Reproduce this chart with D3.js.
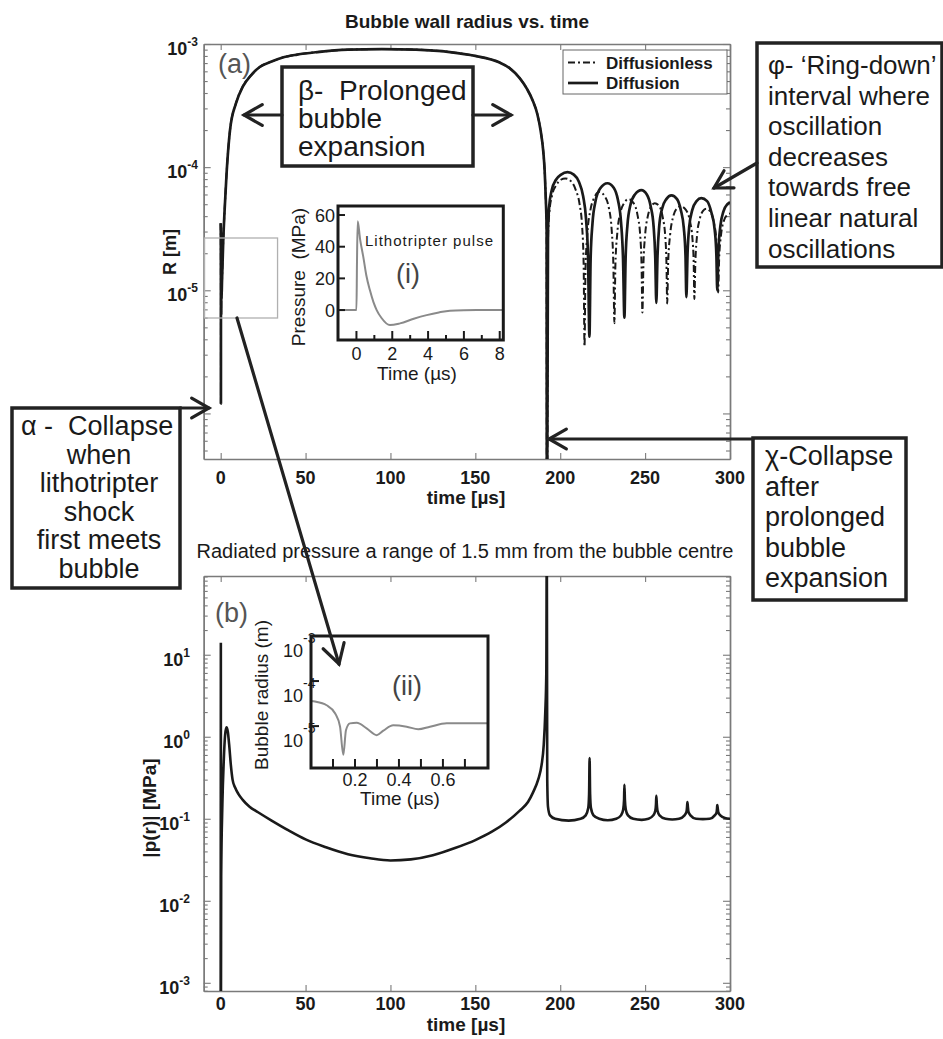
<!DOCTYPE html>
<html>
<head>
<meta charset="utf-8">
<script src="https://cdn.jsdelivr.net/npm/d3@7"></script>
<style>
body { margin: 0; background: #fff; }
svg text { font-family: "Liberation Sans", Arial, sans-serif; fill: #1a1a1a; }
</style>
</head>
<body>
<script>
// ---- data ----
var timeTicks = [0, 50, 100, 150, 200, 250, 300];
var radiusLabelExp = [-5, -4, -3];
var pressureLabelExp = [-3, -2, -1, 0, 1];

// bubble radius [m] vs time [us], shared expansion phase
var expansion = [[0,3.5e-5],[0.07,2.9e-5],[0.13,9.8e-6],[0.15,1.2e-6],[0.16,8e-6],[0.2,1.2e-5],
  [0.3,6.3e-6],[0.37,1.04e-5],[0.5,8.5e-6],[0.75,1.15e-5],[1.5,2.5e-5],[2.5,5e-5],[3.5,9e-5],
  [5.5,2.0e-4],[9,3.3e-4],[13,4.5e-4],[18,5.6e-4],[23,6.5e-4],[30,7.2e-4],[37,7.8e-4],
  [45,8.2e-4],[57,8.6e-4],[75,9.0e-4],[95,9.1e-4],[115,9.0e-4],[135,8.6e-4],[150,8.0e-4],
  [164,7.1e-4],[170,6.4e-4],[176,5.3e-4],[180.5,4.3e-4],[183.7,3.5e-4],[186.5,2.7e-4],
  [188.4,2.0e-4],[190,1.35e-4],[190.8,9.5e-5],[191.5,5.5e-5],[192,3.1e-5]];

var diffusionRing = [[192.1,2e-7],[192.3,2e-7],[192.8,3.0e-5],[193.5,4.8e-5],[195,6.5e-5],
  [197.5,7.9e-5],[200.5,8.7e-5],[204.3,9.1e-5],[208,8.7e-5],[211,7.6e-5],[213.5,5.8e-5],
  [215.2,3.8e-5],[216.4,1.8e-5],[217.2,4.2e-6],
  [217.9,1.8e-5],[219,3.5e-5],[220.8,5.3e-5],[223.5,6.7e-5],[227.8,7.4e-5],[231.5,6.8e-5],
  [234,5.4e-5],[235.8,3.6e-5],[237,1.8e-5],[237.8,6e-6],
  [238.5,1.8e-5],[239.6,3.4e-5],[241.3,4.9e-5],[244,6.0e-5],[247.8,6.5e-5],[251,6.0e-5],
  [253.3,4.8e-5],[255,3.3e-5],[256,1.8e-5],[256.6,7.9e-6],
  [257.3,1.9e-5],[258.3,3.3e-5],[260,4.6e-5],[262.5,5.5e-5],[265.5,5.9e-5],[268.8,5.5e-5],
  [271,4.5e-5],[272.8,3.2e-5],[273.8,1.9e-5],[274.3,8.8e-6],
  [275,2.0e-5],[276,3.3e-5],[277.8,4.5e-5],[280.3,5.3e-5],[283.1,5.6e-5],[286.5,5.3e-5],
  [289,4.3e-5],[291,3.1e-5],[292,1.9e-5],[292.5,1e-5],
  [293.2,2.1e-5],[294.3,3.3e-5],[296.2,4.4e-5],[298.5,5.0e-5],[300,5.2e-5]];

var diffusionlessRing = [[192.1,2e-7],[192.3,2e-7],[192.8,2.6e-5],[193.6,4.3e-5],[195.2,5.9e-5],
  [197.8,7.2e-5],[200.3,7.9e-5],[203,8.1e-5],[206.3,7.7e-5],[209,6.6e-5],[211.4,5e-5],
  [212.9,3.3e-5],[213.8,1.6e-5],[214.3,3.5e-6],
  [214.9,1.5e-5],[216,2.9e-5],[217.8,4.5e-5],[220.2,5.7e-5],[223,6.3e-5],[226.2,5.8e-5],
  [228.6,4.7e-5],[230.3,3.1e-5],[231.3,1.6e-5],[231.9,5.4e-6],
  [232.5,1.6e-5],[233.6,2.9e-5],[235.3,4.2e-5],[237.6,5.1e-5],[240.2,5.5e-5],[243.2,5.1e-5],
  [245.5,4.1e-5],[247.1,2.8e-5],[247.9,1.6e-5],[248.4,6.6e-6],
  [249,1.6e-5],[250,2.8e-5],[251.6,4e-5],[253.6,4.8e-5],[255.7,5.1e-5],[258.4,4.8e-5],
  [260.4,3.9e-5],[261.9,2.7e-5],[262.6,1.6e-5],[263,7.8e-6],
  [263.6,1.7e-5],[264.7,2.8e-5],[266.4,3.9e-5],[268.6,4.6e-5],[271,4.8e-5],[274,4.5e-5],
  [276.3,3.7e-5],[277.9,2.6e-5],[278.6,1.7e-5],[279,8.5e-6],
  [279.6,1.7e-5],[280.6,2.8e-5],[282.2,3.8e-5],[284,4.4e-5],[286,4.6e-5],[288.6,4.3e-5],
  [290.6,3.5e-5],[292,2.5e-5],[292.6,1.7e-5],[293,9.6e-6],
  [293.6,1.8e-5],[294.7,2.8e-5],[296.5,3.7e-5],[298.5,4.1e-5],[300,4.2e-5]];

// radiated pressure |p(r)| [MPa] at 1.5 mm
var radiatedPressure = [[0,5e-4],[0.1,14],[0.16,5e-4],[0.3,0.02],[1,0.15],[1.8,0.5],[2.6,1.05],
  [3.4,1.3],[4.2,1.15],[5,0.8],[6,0.45],[7,0.3],[8.5,0.24],[10.5,0.2],[13,0.17],[17,0.14],
  [22,0.12],[30,0.095],[40,0.072],[50,0.056],[62,0.045],[75,0.037],[88,0.033],[100,0.031],
  [112,0.032],[125,0.036],[138,0.044],[150,0.055],[160,0.07],[168,0.09],[176,0.125],
  [181,0.16],[184,0.21],[187,0.3],[189,0.45],[190.3,0.8],[191.2,2],[191.8,6],[192.1,300],
  [192.35,0.3],[192.8,0.14],[194,0.11],[197,0.1],[205,0.095],[212,0.1],
  [215,0.11],[216.5,0.135],[217.0,0.2],[217.3,0.55],[217.6,0.2],[218.1,0.135],[219.6,0.11],
  [223,0.1],[228,0.096],[233,0.1],
  [235.8,0.11],[237.1,0.13],[237.6,0.17],[237.8,0.26],[238.1,0.17],[238.6,0.13],[239.9,0.11],
  [243,0.1],[248,0.097],[252,0.1],
  [254.8,0.11],[256,0.125],[256.4,0.15],[256.6,0.19],[256.9,0.15],[257.3,0.125],[258.5,0.11],
  [262,0.1],[266,0.098],[270,0.1],
  [273.2,0.11],[274.4,0.122],[274.7,0.14],[274.9,0.16],[275.2,0.14],[275.5,0.122],[276.7,0.11],
  [280,0.1],[284,0.099],[288,0.1],
  [291,0.11],[292.1,0.12],[292.35,0.133],[292.5,0.147],[292.8,0.133],[293.1,0.12],[294.3,0.11],
  [297,0.102],[300,0.1]];

// inset (i): lithotripter pulse
var pulseTime = [-1.03, 0, 0.03, 0.07, 0.2, 0.38, 0.55, 0.75, 0.95, 1.13, 1.4, 1.87, 2.43, 3.2, 3.92, 4.6, 5.22, 6, 7.07, 8.2];
var pulsePressure = [0, 0, 30, 56, 45, 33.7, 22, 12.6, 5, 0, -5, -9.5, -8.4, -5.5, -3.2, -1.5, -0.4, -0.1, 0, 0];
var pulseTimeTicks = [0, 2, 4, 6, 8];
var pulseMinorTicks = [1, 3, 5, 7];
var pulsePressureTicks = [0, 20, 40, 60];

// inset (ii): early bubble radius
var earlyTime = [0, 0.018, 0.071, 0.11, 0.132, 0.147, 0.159, 0.177, 0.208, 0.253, 0.299, 0.329, 0.374, 0.435, 0.488, 0.541, 0.617, 0.738, 0.805];
var earlyRadius = [3.6e-5, 3.5e-5, 2.9e-5, 1.9e-5, 9.8e-6, 2.3e-6, 8.1e-6, 1.15e-5, 1.18e-5, 8.9e-6, 6.3e-6, 7.9e-6, 1.04e-5, 9.7e-6, 8.5e-6, 9.7e-6, 1.15e-5, 1.15e-5, 1.15e-5];
var earlyTimeTicks = [0.2, 0.4, 0.6];
var earlyMinorTicks = [0.1, 0.3, 0.5, 0.7];
var earlyRadiusExp = [-5, -4, -3];

// ---- drawing ----
var svg = d3.select("body").append("svg")
  .attr("width", 943)
  .attr("height", 1039);

var x = d3.scaleLinear().domain([-10, 300]).range([203.7, 730]);
var yR = d3.scaleLog().domain([Math.pow(10, -6.37), 1e-3]).range([459, 44]);
var yP = d3.scaleLog().domain([Math.pow(10, -3.1), Math.pow(10, 1.96)]).range([991, 576]);

var axisColor = "#7a7a7a";
var ink = "#1a1a1a";

function logTicks(scale) {
  var d = scale.domain(), lo = Math.floor(Math.log10(d[0])), hi = Math.ceil(Math.log10(d[1]));
  var major = [], minor = [];
  for (var e = lo; e <= hi; e++) {
    major.push(Math.pow(10, e));
    for (var k = 2; k < 10; k++) minor.push(k * Math.pow(10, e));
  }
  var inside = function(v) { return v >= d[0] && v <= d[1]; };
  return { major: major.filter(inside), minor: minor.filter(inside) };
}

function panelFrame(g, ys, labelGap) {
  var x0 = x.range()[0], x1 = x.range()[1];
  var yb = ys.range()[0], yt = ys.range()[1];
  var lt = logTicks(ys);

  g.append("g").attr("transform", "translate(0," + yb + ")")
    .call(d3.axisBottom(x).tickValues(timeTicks).tickSize(-6).tickSizeOuter(0).tickFormat(""));
  g.append("g").attr("transform", "translate(0," + yt + ")")
    .call(d3.axisTop(x).tickValues(timeTicks).tickSize(-6).tickSizeOuter(0).tickFormat(""));
  g.append("g").attr("transform", "translate(" + x0 + ",0)")
    .call(d3.axisLeft(ys).tickValues(lt.major).tickSize(-7).tickSizeOuter(0).tickFormat(""));
  g.append("g").attr("transform", "translate(" + x0 + ",0)")
    .call(d3.axisLeft(ys).tickValues(lt.minor).tickSize(-4).tickSizeOuter(0).tickFormat(""));
  g.append("g").attr("transform", "translate(" + x1 + ",0)")
    .call(d3.axisRight(ys).tickValues(lt.major).tickSize(-7).tickSizeOuter(0).tickFormat(""));
  g.append("g").attr("transform", "translate(" + x1 + ",0)")
    .call(d3.axisRight(ys).tickValues(lt.minor).tickSize(-4).tickSizeOuter(0).tickFormat(""));

  g.selectAll("path.domain").attr("stroke", axisColor).attr("stroke-width", 1.4);
  g.selectAll(".tick line").attr("stroke", axisColor).attr("stroke-width", 1.1);

  g.append("g").selectAll("text").data(timeTicks).enter().append("text")
    .attr("x", function(d) { return x(d); })
    .attr("y", yb + labelGap)
    .attr("text-anchor", "middle")
    .style("font-size", "18px").style("font-weight", "bold")
    .text(function(d) { return d; });
}

function expLabels(g, ys, exps, xEnd) {
  var t = g.append("g").selectAll("text").data(exps).enter().append("text")
    .attr("x", xEnd)
    .attr("y", function(d) { return ys(Math.pow(10, d)) + 11; })
    .attr("text-anchor", "end")
    .style("font-size", "18px").style("font-weight", "bold");
  t.append("tspan").text("10");
  t.append("tspan").attr("dy", -9).style("font-size", "12px").text(function(d) { return d; });
}

// panel (a)
var gA = svg.append("g");
svg.append("text").attr("x", 467).attr("y", 28).attr("text-anchor", "middle")
  .style("font-size", "19px").style("font-weight", "bold").text("Bubble wall radius vs. time");
panelFrame(gA, yR, 25);
expLabels(gA, yR, radiusLabelExp, 198);
gA.append("text").attr("transform", "translate(176,252) rotate(-90)").attr("text-anchor", "middle")
  .style("font-size", "18px").style("font-weight", "bold").text("R [m]");
gA.append("text").attr("x", 466).attr("y", 504).attr("text-anchor", "middle")
  .style("font-size", "19px").style("font-weight", "bold").text("time [\u00b5s]");

svg.append("clipPath").attr("id", "clipA").append("rect")
  .attr("x", 203.7).attr("y", 44).attr("width", 526.3).attr("height", 415);
svg.append("clipPath").attr("id", "clipB").append("rect")
  .attr("x", 203.7).attr("y", 576).attr("width", 526.3).attr("height", 415);

var lineR = d3.line().x(function(d) { return x(d[0]); }).y(function(d) { return yR(d[1]); })
  .curve(d3.curveMonotoneX);
var curvesA = gA.append("g").attr("clip-path", "url(#clipA)");
curvesA.append("path").datum(expansion.concat(diffusionlessRing))
  .attr("d", lineR).attr("fill", "none").attr("stroke", ink).attr("stroke-width", 2)
  .attr("stroke-dasharray", "7,3,2,3");
curvesA.append("path").datum(expansion.concat(diffusionRing))
  .attr("d", lineR).attr("fill", "none").attr("stroke", ink).attr("stroke-width", 2.7);

gA.append("text").attr("x", 218).attr("y", 73).style("font-size", "27px")
  .style("fill", "#555").text("(a)");

// legend
var leg = gA.append("g");
leg.append("rect").attr("x", 563).attr("y", 50).attr("width", 164).attr("height", 44)
  .attr("fill", "#fff").attr("stroke", "#666").attr("stroke-width", 1);
var legendItems = [["Diffusionless", "7,3,2,3", 2], ["Diffusion", null, 2.7]];
legendItems.forEach(function(it, i) {
  var yy = 62.5 + i * 20.5;
  leg.append("line").attr("x1", 568).attr("x2", 598).attr("y1", yy).attr("y2", yy)
    .attr("stroke", ink).attr("stroke-width", it[2]).attr("stroke-dasharray", it[1]);
  leg.append("text").attr("x", 606).attr("y", yy + 6).style("font-size", "17px")
    .style("font-weight", "bold").text(it[0]);
});

// panel (b)
var gB = svg.append("g");
svg.append("text").attr("x", 465).attr("y", 558).attr("text-anchor", "middle")
  .style("font-size", "20px").text("Radiated pressure a range of 1.5 mm from the bubble centre");
panelFrame(gB, yP, 19);
expLabels(gB, yP, pressureLabelExp, 190);
gB.append("text").attr("transform", "translate(156,808) rotate(-90)").attr("text-anchor", "middle")
  .style("font-size", "19px").style("font-weight", "bold").text("|p(r)| [MPa]");
gB.append("text").attr("x", 466).attr("y", 1031).attr("text-anchor", "middle")
  .style("font-size", "19px").style("font-weight", "bold").text("time [\u00b5s]");

var lineP = d3.line().x(function(d) { return x(d[0]); }).y(function(d) { return yP(d[1]); })
  .curve(d3.curveMonotoneX);
gB.append("g").attr("clip-path", "url(#clipB)").append("path").datum(radiatedPressure)
  .attr("d", lineP).attr("fill", "none").attr("stroke", ink).attr("stroke-width", 2.6);
gB.append("text").attr("x", 215).attr("y", 622).style("font-size", "27px")
  .style("fill", "#555").text("(b)");

// inset (i)
var xi = d3.scaleLinear().domain([-1.03, 8.2]).range([338, 503.3]);
var yi = d3.scaleLinear().domain([-18.9, 65.7]).range([340, 206]);
var gi = svg.append("g");
gi.append("rect").attr("x", 338).attr("y", 206).attr("width", 165.3).attr("height", 134)
  .attr("fill", "#fff");
gi.append("path").datum(d3.range(pulseTime.length))
  .attr("d", d3.line().x(function(i) { return xi(pulseTime[i]); })
    .y(function(i) { return yi(pulsePressure[i]); }).curve(d3.curveMonotoneX))
  .attr("fill", "none").attr("stroke", "#8a8a8a").attr("stroke-width", 2);
gi.append("g").selectAll("line").data(pulseTimeTicks.concat(pulseMinorTicks)).enter().append("line")
  .attr("x1", function(d) { return xi(d); }).attr("x2", function(d) { return xi(d); })
  .attr("y1", 340).attr("y2", function(d) { return d % 2 === 0 ? 331 : 335; })
  .attr("stroke", ink).attr("stroke-width", 2);
gi.append("g").selectAll("line").data(pulsePressureTicks).enter().append("line")
  .attr("x1", 338).attr("x2", 345)
  .attr("y1", function(d) { return yi(d); }).attr("y2", function(d) { return yi(d); })
  .attr("stroke", ink).attr("stroke-width", 2);
gi.append("rect").attr("x", 338).attr("y", 206).attr("width", 165.3).attr("height", 134)
  .attr("fill", "none").attr("stroke", ink).attr("stroke-width", 3);
gi.append("g").selectAll("text").data(pulseTimeTicks).enter().append("text")
  .attr("x", function(d) { return xi(d); }).attr("y", 360).attr("text-anchor", "middle")
  .style("font-size", "18px").text(function(d) { return d; });
gi.append("g").selectAll("text").data(pulsePressureTicks).enter().append("text")
  .attr("x", 335).attr("y", function(d) { return yi(d) + 6.5; }).attr("text-anchor", "end")
  .style("font-size", "18px").text(function(d) { return d; });
gi.append("text").attr("x", 417).attr("y", 380).attr("text-anchor", "middle")
  .style("font-size", "19px").text("Time (\u00b5s)");
gi.append("text").attr("transform", "translate(305,277) rotate(-90)").attr("text-anchor", "middle")
  .style("font-size", "19px").text("Pressure\u00a0 (MPa)");
gi.append("text").attr("x", 365).attr("y", 246).attr("textLength", 128)
  .style("font-size", "15px").text("Lithotripter pulse");
gi.append("text").attr("x", 396).attr("y", 283).style("font-size", "27px")
  .style("fill", "#444").text("(i)");

// inset (ii)
var xe = d3.scaleLinear().domain([0, 0.805]).range([311, 488]);
var ye = d3.scaleLog().domain([Math.pow(10, -5.93), 1e-3]).range([768, 636]);
var ge = svg.append("g");
ge.append("rect").attr("x", 311).attr("y", 636).attr("width", 177).attr("height", 132)
  .attr("fill", "#fff");
ge.append("path").datum(d3.range(earlyTime.length))
  .attr("d", d3.line().x(function(i) { return xe(earlyTime[i]); })
    .y(function(i) { return ye(earlyRadius[i]); }).curve(d3.curveMonotoneX))
  .attr("fill", "none").attr("stroke", "#8a8a8a").attr("stroke-width", 2);
ge.append("g").selectAll("line").data(earlyTimeTicks.concat(earlyMinorTicks)).enter().append("line")
  .attr("x1", function(d) { return xe(d); }).attr("x2", function(d) { return xe(d); })
  .attr("y1", 768).attr("y2", 759)
  .attr("stroke", ink).attr("stroke-width", 2);
ge.append("g").selectAll("line").data(earlyRadiusExp).enter().append("line")
  .attr("x1", 311).attr("x2", 319)
  .attr("y1", function(d) { return ye(Math.pow(10, d)); })
  .attr("y2", function(d) { return ye(Math.pow(10, d)); })
  .attr("stroke", ink).attr("stroke-width", 2);
ge.append("rect").attr("x", 311).attr("y", 636).attr("width", 177).attr("height", 132)
  .attr("fill", "none").attr("stroke", ink).attr("stroke-width", 3);
ge.append("g").selectAll("text").data(earlyTimeTicks).enter().append("text")
  .attr("x", function(d) { return xe(d); }).attr("y", 786).attr("text-anchor", "middle")
  .style("font-size", "18px").text(function(d) { return d.toFixed(1); });
var el = ge.append("g").selectAll("text").data(earlyRadiusExp).enter().append("text")
  .attr("x", 283).attr("y", function(d) { return ye(Math.pow(10, d)) + 21; })
  .style("font-size", "18px");
el.append("tspan").text("10");
el.append("tspan").attr("dy", -14).style("font-size", "14px").text(function(d) { return d; });
ge.append("text").attr("x", 400).attr("y", 805).attr("text-anchor", "middle")
  .style("font-size", "19px").text("Time (\u00b5s)");
ge.append("text").attr("transform", "translate(268,695) rotate(-90)").attr("text-anchor", "middle")
  .style("font-size", "19px").text("Bubble radius (m)");
ge.append("text").attr("x", 392).attr("y", 695).style("font-size", "27px")
  .style("fill", "#444").text("(ii)");

// highlighted region of panel (a) that inset (ii) enlarges
svg.append("rect").attr("x", x(-9.5)).attr("y", 238).attr("width", x(33.5) - x(-9.5)).attr("height", 80)
  .attr("fill", "none").attr("stroke", "#b0b0b0").attr("stroke-width", 1.3);

// annotation boxes
function noteBox(bx, by, bw, bh, lines, tx, ty, lh, anchor, fs) {
  var g = svg.append("g");
  g.append("rect").attr("x", bx).attr("y", by).attr("width", bw).attr("height", bh)
    .attr("fill", "#fff").attr("stroke", "#222").attr("stroke-width", 3.5);
  lines.forEach(function(l, i) {
    var a = Array.isArray(anchor) ? anchor[i] : anchor;
    var xx = Array.isArray(tx) ? tx[i] : tx;
    g.append("text").attr("x", xx).attr("y", ty + i * lh).attr("text-anchor", a)
      .style("font-size", fs + "px").text(l);
  });
}

function arrow(x1, y1, x2, y2, head) {
  var g = svg.append("g").attr("stroke", "#222").attr("stroke-width", 3.2)
    .attr("fill", "none").attr("stroke-linecap", "round");
  g.append("line").attr("x1", x1).attr("y1", y1).attr("x2", x2).attr("y2", y2);
  var a = Math.atan2(y2 - y1, x2 - x1), s = 0.52;
  g.append("polyline").attr("points", [
    [x2 - head * Math.cos(a - s), y2 - head * Math.sin(a - s)],
    [x2, y2],
    [x2 - head * Math.cos(a + s), y2 - head * Math.sin(a + s)]].join(" "))
    .attr("stroke-linejoin", "miter");
}

noteBox(282, 67, 191, 99, ["\u03b2-\u00a0 Prolonged", "bubble", "expansion"], 298, 100, 28, "start", 28);
arrow(282, 115, 244, 115, 21);
arrow(473, 115, 511, 115, 21);

noteBox(757, 43, 185, 224, ["\u03c6- \u2018Ring-down\u2019", "interval where", "oscillation",
  "decreases", "towards free", "linear natural", "oscillations"], 768, 74, 30.6, "start", 26);
arrow(757, 163, 714, 188, 20);

noteBox(12, 408, 168, 180, ["\u03b1 -\u00a0 Collapse", "when", "lithotripter", "shock", "first meets", "bubble"],
  [21, 99, 99, 99, 99, 99], 435, 28.6, ["start", "middle", "middle", "middle", "middle", "middle"], 27);
arrow(180, 408, 209, 408, 20);

noteBox(753, 438, 153, 162, ["\u03c7-Collapse", "after", "prolonged", "bubble", "expansion"],
  765, 465, 30.5, "start", 27);
arrow(753, 439, 549, 439, 20);

arrow(237, 318, 339, 664, 22);
</script>
</body>
</html>
